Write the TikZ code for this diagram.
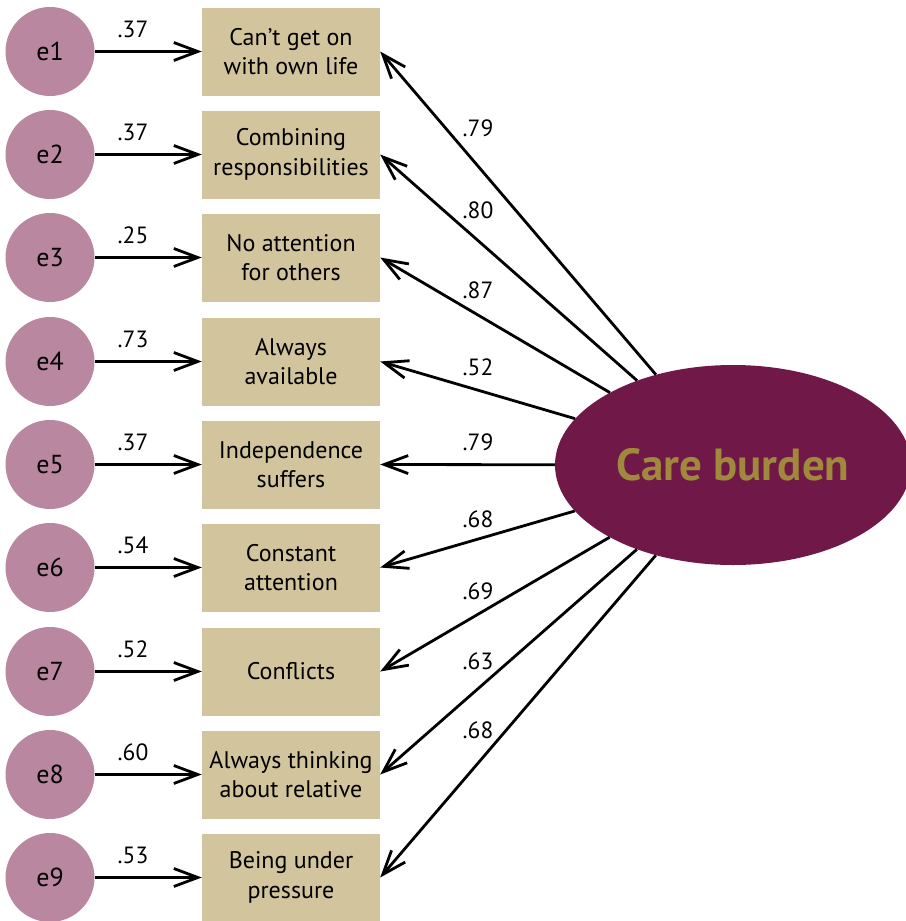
\documentclass[tikz,border=0pt]{standalone}
\usepackage{fontspec}
\setmainfont{PT Sans}
\usetikzlibrary{arrows.meta,shapes.geometric}
\definecolor{errc}{HTML}{B9879F}
\definecolor{boxc}{HTML}{D2C59D}
\definecolor{latc}{HTML}{701848}
\definecolor{goldc}{HTML}{A0883C}
\begin{document}
\begin{tikzpicture}[x=1pt,y=-1pt,
  err/.style={circle,fill=errc,minimum size=89pt,inner sep=0pt,font=\fontsize{26}{30}\selectfont},
  item/.style={rectangle,fill=boxc,minimum width=178pt,minimum height=88pt,inner sep=0pt,align=center,font=\fontsize{24}{29.5}\selectfont},
  lat/.style={ellipse,fill=latc,minimum width=356pt,minimum height=200pt,inner sep=0pt,font=\bfseries\fontsize{45}{50}\selectfont,text=goldc},
  arr/.style={line width=2.8pt,-{Straight Barb[length=24pt,width=18pt,line width=2.8pt]}},
  lab/.style={font=\fontsize{23.5}{26}\selectfont,inner sep=0pt}]
\useasboundingbox (0,0) rectangle (905,921);
\node[lat] (cb) at (733,465) {Care burden};
\foreach \i/\t/\a/\l/\ly/\yy in {
  1/{Can’t get on\\with own life}/.37/.79/128/51.5,
  2/{Combining\\responsibilities}/.37/.80/210/154.5,
  3/{No attention\\for others}/.25/.87/290/257.5,
  4/{Always\\available}/.73/.52/367/361.5,
  5/{Independence\\suffers}/.37/.79/442/464.5,
  6/{Constant\\attention}/.54/.68/519/567.5,
  7/{Conflicts}/.52/.69/591/671.5,
  8/{Always thinking\\about relative}/.60/.63/661/774.5,
  9/{Being under\\pressure}/.53/.68/730/877.5}{
  \node[err] (e\i) at (50,\yy) {e\i};
  \node[item] (b\i) at (291,\yy) {\t};
  \draw[arr] (e\i) -- (b\i);
  \node[lab] (la\i) at (133,\yy-22) {\a};
  \draw[arr] (cb) -- (b\i.east);
  \node[lab] (lb\i) at (478,\ly) {\l};
}
\end{tikzpicture}
\end{document}
